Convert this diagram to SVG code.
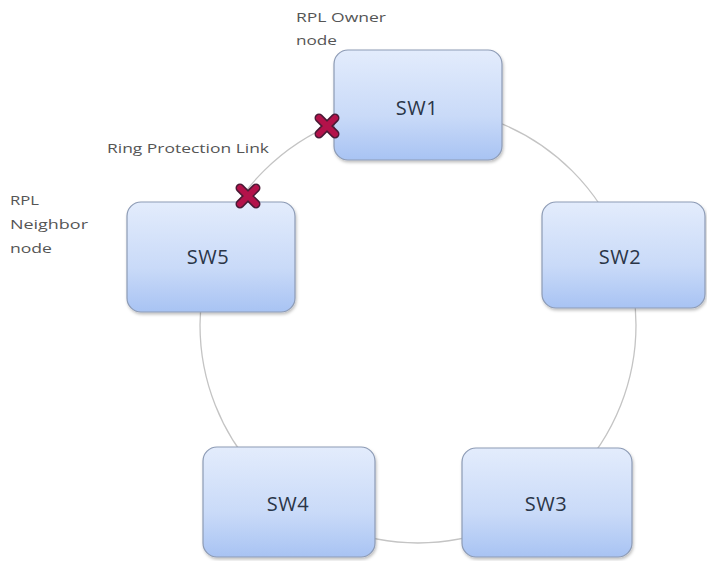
<svg xmlns="http://www.w3.org/2000/svg" width="707" height="561" viewBox="0 0 707 561">
<defs>
<linearGradient id="g" x1="0" y1="0" x2="0" y2="1">
<stop offset="0" stop-color="#e3ecfc"/>
<stop offset="0.6" stop-color="#c9daf8"/>
<stop offset="1" stop-color="#a8c3f3"/>
</linearGradient>
<filter id="sh" x="-10%" y="-10%" width="130%" height="130%">
<feDropShadow dx="1" dy="2" stdDeviation="1.5" flood-color="#000" flood-opacity="0.25"/>
</filter>
<g id="x">
<path d="M-8,-8 L8,8 M8,-8 L-8,8" stroke="#4a1a36" stroke-width="9" stroke-linecap="round"/>
<path d="M-8,-8 L8,8 M8,-8 L-8,8" stroke="#b3124a" stroke-width="6" stroke-linecap="round"/>
</g>
</defs>
<style>
.n{fill:url(#g);stroke:#8d9bb5;stroke-width:1.2;filter:url(#sh)}
.t{font-family:"Open Sans","Liberation Sans",sans-serif;font-size:20px;fill:#2a3547;text-anchor:middle;letter-spacing:0.5px}
.l{font-family:"Open Sans","Liberation Sans",sans-serif;font-size:13.5px;fill:#555}
</style>
<rect width="707" height="561" fill="#fff"/>
<g id="connectors">
<circle cx="418" cy="325" r="218" fill="none" stroke="#c4c4c4" stroke-width="1.3"/>
</g>
<g id="sw1"><rect class="n" x="334" y="50" width="168" height="110" rx="14"/><text class="t" x="417" y="115">SW1</text></g>
<g id="sw2"><rect class="n" x="542" y="202" width="163" height="106" rx="14"/><text class="t" x="620" y="264">SW2</text></g>
<g id="sw3"><rect class="n" x="462" y="448" width="170" height="109" rx="14"/><text class="t" x="546" y="511">SW3</text></g>
<g id="sw4"><rect class="n" x="203" y="447" width="172" height="110" rx="14"/><text class="t" x="288" y="511">SW4</text></g>
<g id="sw5"><rect class="n" x="127" y="202" width="168" height="110" rx="14"/><text class="t" x="208" y="264">SW5</text></g>
<g id="markers">
<use href="#x" x="327" y="126"/>
<use href="#x" x="248" y="196"/>
</g>
<g id="labels">
<text class="l" x="296" y="22" textLength="90" lengthAdjust="spacingAndGlyphs">RPL Owner</text>
<text class="l" x="296" y="45" textLength="41" lengthAdjust="spacingAndGlyphs">node</text>
<text class="l" x="107" y="153" textLength="162" lengthAdjust="spacingAndGlyphs">Ring Protection Link</text>
<text class="l" x="10" y="205" textLength="29" lengthAdjust="spacingAndGlyphs">RPL</text>
<text class="l" x="10" y="229" textLength="78" lengthAdjust="spacingAndGlyphs">Neighbor</text>
<text class="l" x="10" y="253" textLength="42" lengthAdjust="spacingAndGlyphs">node</text>
</g>
</svg>
